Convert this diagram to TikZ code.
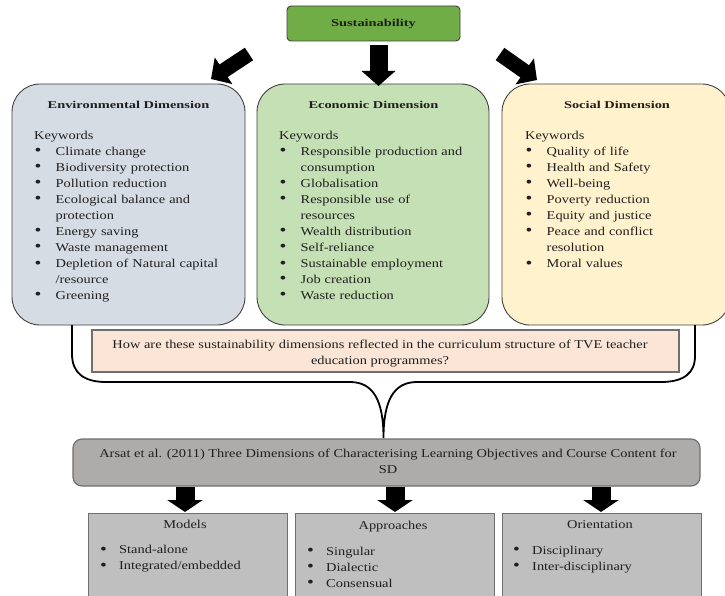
\documentclass[tikz,border=0pt]{standalone}
\usepackage{fontspec}
\setmainfont{Liberation Serif}[FakeStretch=1.2]
\newfontfamily\ttlfont{Liberation Serif}[FakeStretch=1.37]
\usetikzlibrary{arrows.meta}
\definecolor{sgreen}{HTML}{70AD47}
\definecolor{envc}{HTML}{D6DCE4}
\definecolor{ecoc}{HTML}{C5E0B4}
\definecolor{socc}{HTML}{FFF2CC}
\definecolor{qc}{HTML}{FBE5D6}
\definecolor{grayc}{HTML}{AEABAB}
\definecolor{botc}{HTML}{BFBFBF}
\definecolor{bordc}{HTML}{404040}
\definecolor{bordg}{HTML}{6F6F6F}
\definecolor{txt}{HTML}{1F1F1F}
\setlength{\parskip}{0pt}
\newcommand{\bul}{\raisebox{-0.3pt}{\scalebox{1.35}{\textbullet}}}
\newcommand{\kitem}[1]{\par\hangindent=21.5pt\hangafter=1\noindent\makebox[21.5pt][l]{\hspace*{0.5pt}\bul}#1}
\newcommand{\bitem}[1]{\par\hangindent=19pt\hangafter=1\noindent\makebox[19pt][l]{\bul}#1}
\begin{document}
\begin{tikzpicture}[x=1pt,y=-1pt,
  bodyf/.style={font=\fontsize{12}{16}\selectfont, text=txt},
  ttl/.style={font=\ttlfont\bfseries\fontsize{10.5}{12}\selectfont, text=txt, inner sep=0pt, anchor=base},
  dimbox/.style={draw=bordc, line width=0.9pt, rounded corners=28pt, inner sep=0pt},
  listtxt/.style={bodyf, anchor=north west, inner sep=0pt, text width=205pt, align=left},
  botbox/.style={draw=bordg, line width=1.2pt, fill=botc, inner sep=0pt, minimum height=110pt, anchor=north west},
  barrow/.style={line width=18pt, -{Triangle[length=15pt,width=33pt]}, black},
  darrow/.style={line width=15pt, -{Triangle[length=15pt,width=31pt]}, black},
  botarrow/.style={line width=19pt, -{Triangle[length=12pt,width=35pt]}, black},
  brace/.style={line width=1.8pt, black}]
\useasboundingbox (0,0) rectangle (725,596);

% top node
\node[draw=bordc, line width=0.9pt, fill=sgreen, rounded corners=4pt, minimum width=173pt, minimum height=35pt, inner sep=0pt,
  font=\ttlfont\bfseries\fontsize{10.5}{12}\selectfont, text=txt] (sus) at (373.5,23.5) {Sustainability};

% dimension boxes
\node[dimbox, fill=envc, minimum width=233pt, minimum height=241pt] (env) at (128.5,204.5) {};
\node[dimbox, fill=ecoc, minimum width=232pt, minimum height=241pt] (eco) at (373,204.5) {};
\node[dimbox, fill=socc, minimum width=228pt, minimum height=241pt] (soc) at (616,204.5) {};

% top arrows
\coordinate (a1s) at (249,54); \coordinate (a1e) at (211,79);
\coordinate (a2s) at (378.5,45); \coordinate (a2e) at (378.5,86);
\coordinate (a3s) at (500,54); \coordinate (a3e) at (537,80);
\draw[darrow] (a1s) -- (a1e);
\draw[barrow] (a2s) -- (a2e);
\draw[darrow] (a3s) -- (a3e);

% titles
\node[ttl] (envt) at (128.5,109) {Environmental Dimension};
\node[ttl] (ecot) at (373.5,109) {Economic Dimension};
\node[ttl] (soct) at (617,109) {Social Dimension};

% lists
\node[listtxt] (envl) at (34,128.3) {\strut Keywords
\kitem{Climate change}
\kitem{Biodiversity protection}
\kitem{Pollution reduction}
\kitem{Ecological balance and\newline protection}
\kitem{Energy saving}
\kitem{Waste management}
\kitem{Depletion of Natural capital\newline /resource}
\kitem{Greening}};

\node[listtxt] (ecol) at (279,128.3) {\strut Keywords
\kitem{Responsible production and\newline consumption}
\kitem{Globalisation}
\kitem{Responsible use of\newline resources}
\kitem{Wealth distribution}
\kitem{Self-reliance}
\kitem{Sustainable employment}
\kitem{Job creation}
\kitem{Waste reduction}};

\node[listtxt] (socl) at (525,128.3) {\strut Keywords
\kitem{Quality of life}
\kitem{Health and Safety}
\kitem{Well-being}
\kitem{Poverty reduction}
\kitem{Equity and justice}
\kitem{Peace and conflict\newline resolution}
\kitem{Moral values}};

% brace
\draw[brace] (72,325) -- (72,354) .. controls (72,373) and (84,382) .. (106,382) -- (350,382)
  .. controls (373,382) and (383.5,400) .. (383.5,438)
  .. controls (383.5,400) and (394,382) .. (417,382) -- (661,382)
  .. controls (684,382) and (695,373) .. (695,356) -- (695,325);

% question
\node[draw=bordg, line width=1.2pt, fill=qc, minimum width=587pt, minimum height=42pt, inner sep=0pt] (q) at (385.5,351) {};
\node[bodyf, anchor=north, inner sep=0pt, align=center] (qt) at (380,336.8)
  {\strut How are these sustainability dimensions reflected in the curriculum structure of TVE teacher\\
   \strut education programmes?};

% gray box
\node[draw=bordg, line width=1.2pt, fill=grayc, rounded corners=9pt, minimum width=627pt, minimum height=47pt, inner sep=0pt] (ar) at (386.5,462.5) {};
\node[bodyf, anchor=north, inner sep=0pt, align=center] (art) at (388,445.8)
  {\strut Arsat et al. (2011) Three Dimensions of Characterising Learning Objectives and Course Content for\\
   \strut SD};

% bottom arrows
\coordinate (b1s) at (185,487); \coordinate (b1e) at (185,512);
\coordinate (b2s) at (395,487); \coordinate (b2e) at (395,512);
\coordinate (b3s) at (601,487); \coordinate (b3e) at (601,512);
\draw[botarrow] (b1s) -- (b1e);
\draw[botarrow] (b2s) -- (b2e);
\draw[botarrow] (b3s) -- (b3e);

% bottom boxes
\node[botbox, minimum width=199pt] (mod) at (87.5,512.5) {};
\node[botbox, minimum width=199pt] (app) at (294.5,512.5) {};
\node[botbox, minimum width=199pt] (ori) at (501.5,512.5) {};

\node[bodyf, anchor=base, inner sep=0pt] (modt) at (185,528) {Models};
\node[bodyf, anchor=base, inner sep=0pt] (appt) at (393,529) {Approaches};
\node[bodyf, anchor=base, inner sep=0pt] (orit) at (600,528) {Orientation};

\node[listtxt, text width=180pt] (modl) at (100,542.3) {\noindent\strut\makebox[19pt][l]{\bul}Stand-alone
\bitem{Integrated/embedded}};
\node[listtxt, text width=180pt] (appl) at (307,543.8) {\noindent\strut\makebox[19pt][l]{\bul}Singular
\bitem{Dialectic}
\bitem{Consensual}};
\node[listtxt, text width=180pt] (oril) at (513,542.8) {\noindent\strut\makebox[19pt][l]{\bul}Disciplinary
\bitem{Inter-disciplinary}};
\end{tikzpicture}
\end{document}
